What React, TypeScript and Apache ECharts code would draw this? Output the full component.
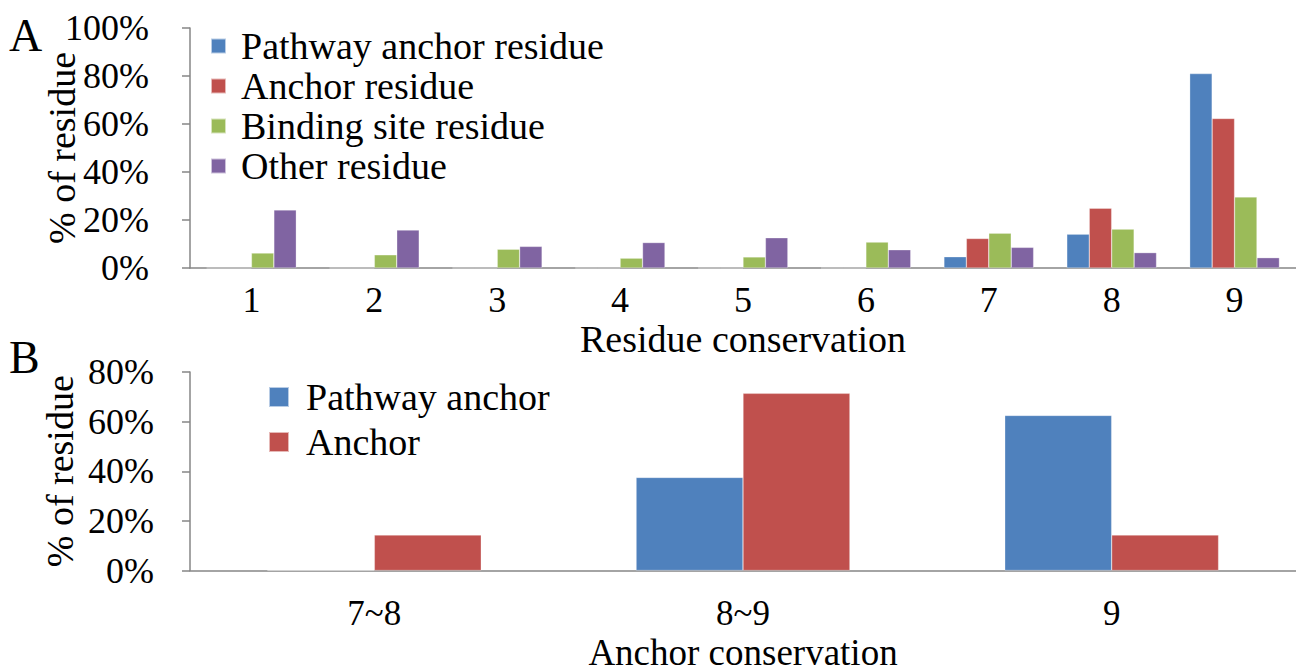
import React, { useEffect, useRef } from "react";
import * as echarts from "echarts";

const catsA = ["1", "2", "3", "4", "5", "6", "7", "8", "9"];
const pathwayAnchorA = [0, 0, 0, 0, 0, 0, 4.7, 14.1, 81.0];
const anchorA = [0, 0, 0, 0, 0, 0, 12.3, 24.9, 62.3];
const bindingA = [6.2, 5.5, 7.8, 4.1, 4.6, 10.8, 14.5, 16.2, 29.6];
const otherA = [24.2, 15.8, 9.0, 10.6, 12.6, 7.6, 8.6, 6.4, 4.3];

const catsB = ["7~8", "8~9", "9"];
const pathwayAnchorB = [0, 37.5, 62.5];
const anchorB = [14.3, 71.4, 14.3];

const namesA = ["Pathway anchor residue", "Anchor residue", "Binding site residue", "Other residue"];
const namesB = ["Pathway anchor", "Anchor"];

const C_BLUE = "#4F81BD";
const C_RED = "#C0504D";
const C_GREEN = "#9BBB59";
const C_PURPLE = "#8064A2";

const FONT = "'Liberation Serif', 'Times New Roman', serif";
const AXIS_COLOR = "#868686";

export default function App() {
  const ref = useRef<HTMLDivElement>(null);
  useEffect(() => {
    if (!ref.current) return;
    const chart = echarts.init(ref.current, null, { renderer: "svg" });
    const axisLine = { lineStyle: { color: AXIS_COLOR, width: 1.5 } };
    const axisTick = { length: 8, lineStyle: { color: AXIS_COLOR, width: 1.5 } };
    const lab = { color: "#000", fontFamily: FONT, fontSize: 36 };
    const nameStyle = { color: "#000", fontFamily: FONT, fontSize: 38 };
    const barStyle = (c: string) => ({ color: c, borderColor: "rgba(255,255,255,0.6)", borderWidth: 0.5 });
    chart.setOption({
      animation: false,
      backgroundColor: "#fff",
      textStyle: { fontFamily: FONT },
      grid: [
        { left: 190, top: 28, width: 1106, height: 240 },
        { left: 190, top: 372, width: 1106, height: 201 },
      ],
      xAxis: [
        {
          type: "category", gridIndex: 0, data: catsA,
          axisLine, axisTick: { ...axisTick, alignWithLabel: false },
          axisLabel: { ...lab, margin: 14 },
          name: "Residue conservation", nameLocation: "middle", nameGap: 52, nameMoveOverlap: false,
          nameTextStyle: nameStyle,
        },
        {
          type: "category", gridIndex: 1, data: catsB,
          axisLine, axisTick: { ...axisTick, alignWithLabel: false },
          axisLabel: { ...lab, fontSize: 35, margin: 26, lineHeight: 34 },
          name: "Anchor conservation", nameLocation: "middle", nameGap: 64, nameMoveOverlap: false,
          nameTextStyle: { ...nameStyle, fontSize: 37, lineHeight: 36 },
        },
      ],
      yAxis: [
        {
          type: "value", gridIndex: 0, min: 0, max: 100, interval: 20,
          axisLine: { show: true, ...axisLine }, axisTick: { show: true, ...axisTick },
          splitLine: { show: false },
          axisLabel: { ...lab, margin: 41, formatter: "{value}%" },
          name: "% of residue", nameLocation: "middle", nameRotate: 90, nameGap: 109, nameMoveOverlap: false,
          nameTextStyle: nameStyle,
        },
        {
          type: "value", gridIndex: 1, min: 0, max: 80, interval: 20,
          axisLine: { show: true, ...axisLine }, axisTick: { show: true, ...axisTick },
          splitLine: { show: false },
          axisLabel: { ...lab, margin: 36, formatter: "{value}%" },
          name: "% of residue", nameLocation: "middle", nameRotate: 90, nameGap: 111, nameMoveOverlap: false,
          nameTextStyle: nameStyle,
        },
      ],
      legend: [
        {
          data: namesA, orient: "vertical", left: 210, top: 27, padding: 0,
          itemWidth: 15, itemHeight: 15, itemGap: 2, icon: "rect",
          textStyle: { color: "#000", fontFamily: FONT, fontSize: 38, padding: [0, 0, 0, 10] },
        },
        {
          data: namesB, orient: "vertical", left: 268, top: 378, padding: 0,
          itemWidth: 20, itemHeight: 20, itemGap: 7, icon: "rect",
          textStyle: { color: "#000", fontFamily: FONT, fontSize: 38, padding: [0, 0, 0, 12] },
        },
      ],
      graphic: [
        { type: "text", left: 9, top: 12, style: { text: "A", fontFamily: FONT, fontSize: 46, fill: "#000" } },
        { type: "text", left: 9, top: 334, style: { text: "B", fontFamily: FONT, fontSize: 46, fill: "#000" } },
      ],
      series: [
        { name: namesA[0], type: "bar", xAxisIndex: 0, yAxisIndex: 0, data: pathwayAnchorA, itemStyle: barStyle(C_BLUE), barGap: "0%", barCategoryGap: "27%" },
        { name: namesA[1], type: "bar", xAxisIndex: 0, yAxisIndex: 0, data: anchorA, itemStyle: barStyle(C_RED), barGap: "0%", barCategoryGap: "27%" },
        { name: namesA[2], type: "bar", xAxisIndex: 0, yAxisIndex: 0, data: bindingA, itemStyle: barStyle(C_GREEN), barGap: "0%", barCategoryGap: "27%" },
        { name: namesA[3], type: "bar", xAxisIndex: 0, yAxisIndex: 0, data: otherA, itemStyle: barStyle(C_PURPLE), barGap: "0%", barCategoryGap: "27%" },
        { name: namesB[0], type: "bar", xAxisIndex: 1, yAxisIndex: 1, data: pathwayAnchorB, itemStyle: barStyle(C_BLUE), barGap: "0%", barCategoryGap: "42%" },
        { name: namesB[1], type: "bar", xAxisIndex: 1, yAxisIndex: 1, data: anchorB, itemStyle: barStyle(C_RED), barGap: "0%", barCategoryGap: "42%" },
      ],
    });
    return () => chart.dispose();
  }, []);
  return <div ref={ref} style={{ position: "fixed", left: 0, top: 0, width: 1296, height: 672, background: "#fff" }} />;
}
